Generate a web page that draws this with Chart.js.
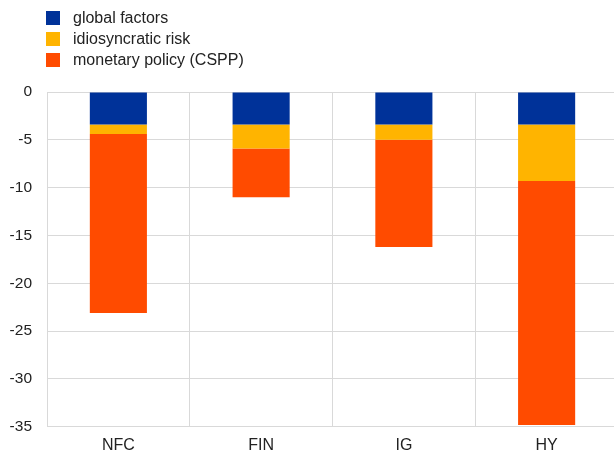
<!doctype html>
<html>
    <head>
        <script src="https://cdn.jsdelivr.net/npm/chart.js"></script>
        <style>
            html, body { margin: 0; padding: 0; overflow: hidden; background: #fff; }
            #wrap { position: absolute; left: 0; top: 0; width: 618px; height: 452px; }
            #legend { position: absolute; left: 46px; top: 7px; font: 16px "Liberation Sans", Arial, sans-serif; color: #222; }
            #legend div { height: 21.2px; display: flex; align-items: center; }
            #legend span.box { display: inline-block; width: 14px; height: 14px; margin-right: 13px; }
        </style>
    </head>
    <body>
        <div id="wrap"><canvas id="chart"></canvas></div>
        <div id="legend"></div>
        <script>
            const categories = ["NFC", "FIN", "IG", "HY"];
            const globalFactors = [-3.4, -3.4, -3.4, -3.4];
            const idiosyncraticRisk = [-1.0, -2.5, -1.6, -5.9];
            const monetaryPolicy = [-18.7, -5.1, -11.2, -25.5];
            const yTicks = [0, -5, -10, -15, -20, -25, -30, -35];

            const datasets = [
                { label: "global factors", data: globalFactors, backgroundColor: "#003299" },
                { label: "idiosyncratic risk", data: idiosyncraticRisk, backgroundColor: "#ffb400" },
                { label: "monetary policy (CSPP)", data: monetaryPolicy, backgroundColor: "#ff4b00" },
            ];

            const ctx = document.getElementById("chart").getContext("2d");
            const chart = new Chart(ctx, {
                type: "bar",
                data: {
                    labels: categories,
                    datasets: datasets.map((d) => ({
                        ...d,
                        borderWidth: 0,
                        categoryPercentage: 0.4,
                        barPercentage: 1,
                    })),
                },
                options: {
                    responsive: true,
                    maintainAspectRatio: false,
                    animation: false,
                    layout: { padding: { top: 92, bottom: -12, left: 0, right: 0 } },
                    plugins: { legend: { display: false }, tooltip: { enabled: false } },
                    scales: {
                        x: {
                            stacked: true,
                            grid: { color: "#d9d9d9", drawTicks: false },
                            border: { color: "#d9d9d9" },
                            ticks: {
                                color: "#222",
                                padding: 9,
                                font: { family: "'Liberation Sans', Arial", size: 16 },
                            },
                        },
                        y: {
                            stacked: true,
                            min: Math.min(...yTicks),
                            max: Math.max(...yTicks),
                            afterFit: (s) => { s.width = 47; },
                            afterBuildTicks: (s) => { s.ticks = yTicks.map((v) => ({ value: v })); },
                            grid: { color: "#d9d9d9", drawTicks: false },
                            border: { color: "#d9d9d9" },
                            ticks: {
                                color: "#222",
                                padding: 15,
                                font: { family: "'Liberation Sans', Arial", size: 15.5 },
                            },
                        },
                    },
                },
            });

            const legend = document.getElementById("legend");
            datasets.forEach((d) => {
                const row = document.createElement("div");
                row.innerHTML = '<span class="box" style="background:' + d.backgroundColor + '"></span>' + d.label;
                legend.appendChild(row);
            });
        </script>
    </body>
</html>
